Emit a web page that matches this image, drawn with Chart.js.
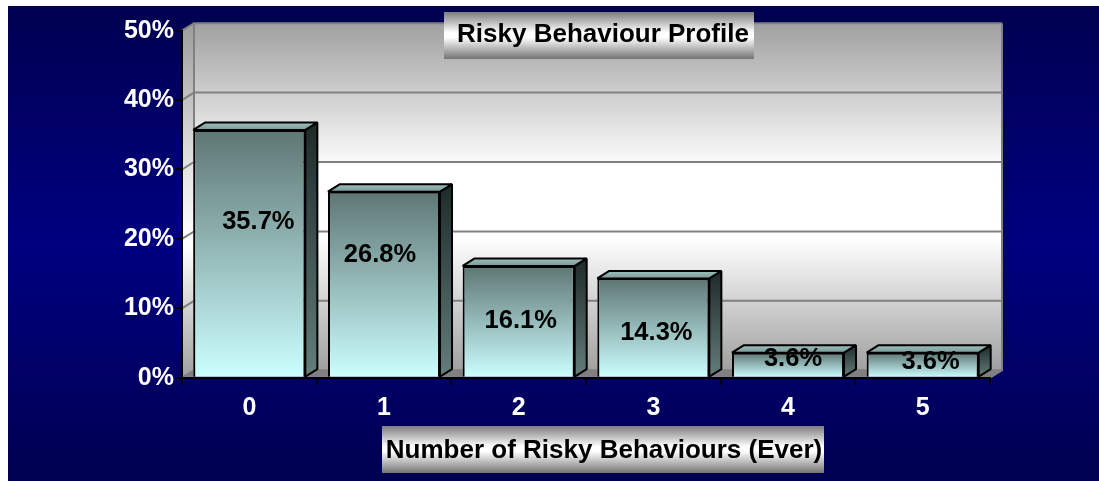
<!DOCTYPE html>
<html><head><meta charset="utf-8">
<style>html,body{margin:0;padding:0;background:#fff}canvas{display:block}</style>
<script src="https://cdn.jsdelivr.net/npm/chart.js@4"></script>
</head><body><canvas id="c" width="1099" height="481"></canvas>
<script>
const categories = ['0','1','2','3','4','5'];
const values = [35.7,26.8,16.1,14.3,3.6,3.6];
const valueLabels = ['35.7%','26.8%','16.1%','14.3%','3.6%','3.6%'];
const yTicks = [0,10,20,30,40,50];
const chartTitle = 'Risky Behaviour Profile';
const xTitle = 'Number of Risky Behaviours (Ever)';
const labelShift = [[9,-31],[-4,-29],[2,0],[3,5],[5,-6],[8,-3]];

const DX = 12, DY = 7.5;
const FONT = '"Liberation Sans", Arial, sans-serif';

function vgrad(ctx, y0, y1, stops){
  const g = ctx.createLinearGradient(0,y0,0,y1);
  stops.forEach(s=>g.addColorStop(s[0],s[1]));
  return g;
}
function poly(ctx, pts, fill, stroke, lw){
  ctx.beginPath();
  pts.forEach((p,i)=> i?ctx.lineTo(p[0],p[1]):ctx.moveTo(p[0],p[1]));
  ctx.closePath();
  if(fill){ctx.fillStyle=fill;ctx.fill();}
  if(stroke){ctx.strokeStyle=stroke;ctx.lineWidth=lw;ctx.lineJoin='bevel';ctx.stroke();}
}
const boxStops = [[0,'#7c7c7c'],[0.44,'#ffffff'],[0.54,'#ffffff'],[1,'#747474']];

const scene = {
  id:'scene',
  afterLayout(chart){
    const t = chart.titleBlock;
    t.left=448; t.right=758; t.top=20;
    const x = chart.scales.x;
    if(!x._wrapped){
      const orig = x.drawTitle;
      x.drawTitle = function(){
        const l=this.left,r=this.right;
        this.left=383; this.right=825;
        orig.call(this);
        this.left=l; this.right=r;
      };
      x._wrapped = true;
    }
  },
  beforeDraw(chart){
    const ctx = chart.ctx, a = chart.chartArea, y = chart.scales.y;
    ctx.save();
    ctx.fillStyle = vgrad(ctx,6,481,[[0,'#000050'],[0.5,'#000080'],[1,'#000050']]);
    ctx.fillRect(8,6,1091,475);
    const top=a.top, bot=a.bottom, L=a.left, R=a.right;
    const wallStops=[[0,'#a0a0a0'],[0.42,'#ffffff'],[0.62,'#ffffff'],[1,'#a0a0a0']];
    ctx.fillStyle = vgrad(ctx,top-DY,bot-DY,wallStops);
    ctx.fillRect(L+DX,top-DY,R-L,bot-top);
    poly(ctx,[[L,top],[L+DX,top-DY],[L+DX,bot-DY],[L,bot]],vgrad(ctx,top,bot,[[0,'#a0a0a0'],[0.42,'#e8e8e8'],[0.62,'#ffffff'],[1,'#a0a0a0']]));
    poly(ctx,[[L,bot],[L+DX,bot-DY],[R+DX,bot-DY],[R,bot]],'#808080');
    ctx.strokeStyle='#808080'; ctx.lineWidth=2;
    yTicks.forEach(v=>{
      const p=y.getPixelForValue(v);
      ctx.beginPath();ctx.moveTo(L,p);ctx.lineTo(L+DX,p-DY);ctx.lineTo(R+DX,p-DY);ctx.stroke();
    });
    ctx.beginPath();ctx.moveTo(L+DX,top-DY);ctx.lineTo(L+DX,bot-DY);ctx.stroke();
    ctx.beginPath();ctx.moveTo(R+DX,top-DY);ctx.lineTo(R+DX,bot-DY);ctx.lineTo(R,bot);ctx.stroke();
    ctx.fillStyle=vgrad(ctx,12,59,boxStops); ctx.fillRect(444,12,310,47);
    ctx.fillStyle=vgrad(ctx,426,473,boxStops); ctx.fillRect(382,426,442,47);
    ctx.restore();
  },
  beforeDatasetsDraw(chart){
    const ctx=chart.ctx, meta=chart.getDatasetMeta(0);
    ctx.save();
    meta.data.forEach(b=>{
      const hw=b.width/2, l=b.x-hw, r=b.x+hw, t=b.y, bs=b.base;
      poly(ctx,[[r,t],[r+DX,t-DY],[r+DX,bs-DY],[r,bs]],vgrad(ctx,t-DY,bs,[[0,'#1e2a28'],[1,'#647e7c']]),'#000',2);
      poly(ctx,[[l,t],[l+DX,t-DY],[r+DX,t-DY],[r,t]],vgrad(ctx,t-DY,t,[[0,'#9cc0bd'],[1,'#7c9a98']]),'#000',2);
    });
    ctx.restore();
  },
  afterDatasetsDraw(chart){
    const ctx=chart.ctx, meta=chart.getDatasetMeta(0);
    ctx.save();
    ctx.font='bold 25.5px '+FONT; ctx.fillStyle='#000';
    ctx.textAlign='center'; ctx.textBaseline='middle';
    meta.data.forEach((b,i)=>{
      ctx.fillText(valueLabels[i], b.x+labelShift[i][0], (b.y+b.base)/2+labelShift[i][1]);
    });
    ctx.restore();
  }
};

new Chart(document.getElementById('c'),{
  type:'bar',
  data:{labels:categories,datasets:[{
    data:values,
    barPercentage:0.832,
    categoryPercentage:1,
    borderColor:'#000',
    borderWidth:2,
    backgroundColor(c){
      const ch=c.chart, a=ch.chartArea;
      if(!a || c.parsed==null) return '#8fb';
      const v=c.parsed.y, ys=ch.scales.y;
      const g=ch.ctx.createLinearGradient(0,ys.getPixelForValue(v),0,ys.getPixelForValue(0));
      g.addColorStop(0,'#5e7674'); g.addColorStop(1,'#ccffff');
      return g;
    }
  }]},
  options:{
    responsive:false,animation:false,
    layout:{padding:{left:0,right:109,top:0.5,bottom:0}},
    plugins:{
      legend:{display:false},tooltip:{enabled:false},
      title:{display:true,text:chartTitle,color:'#000',font:{family:FONT,size:26,weight:'bold',lineHeight:1.16},padding:0}
    },
    scales:{
      x:{
        offset:true,
        afterFit(s){s.height=103.3;},
        grid:{drawOnChartArea:false,color:'#000',lineWidth:2,tickLength:7,offset:true},
        border:{color:'#000',width:2},
        ticks:{color:'#fff',font:{family:FONT,size:25,weight:'bold'},padding:8,maxRotation:0},
        title:{display:true,text:xTitle,color:'#000',font:{family:FONT,size:26,weight:'bold',lineHeight:1.16},padding:{top:0,bottom:15}}
      },
      y:{
        min:0,max:50,
        afterFit(s){s.width=182;},
        afterBuildTicks(s){s.ticks=yTicks.map(v=>({value:v}));},
        grid:{drawOnChartArea:false,color:'#000',lineWidth:2,tickLength:7},
        border:{color:'#000',width:2},
        ticks:{color:'#fff',font:{family:FONT,size:25,weight:'bold'},padding:1,callback:v=>v+'%'}
      }
    }
  },
  plugins:[scene]
});
</script></body></html>
